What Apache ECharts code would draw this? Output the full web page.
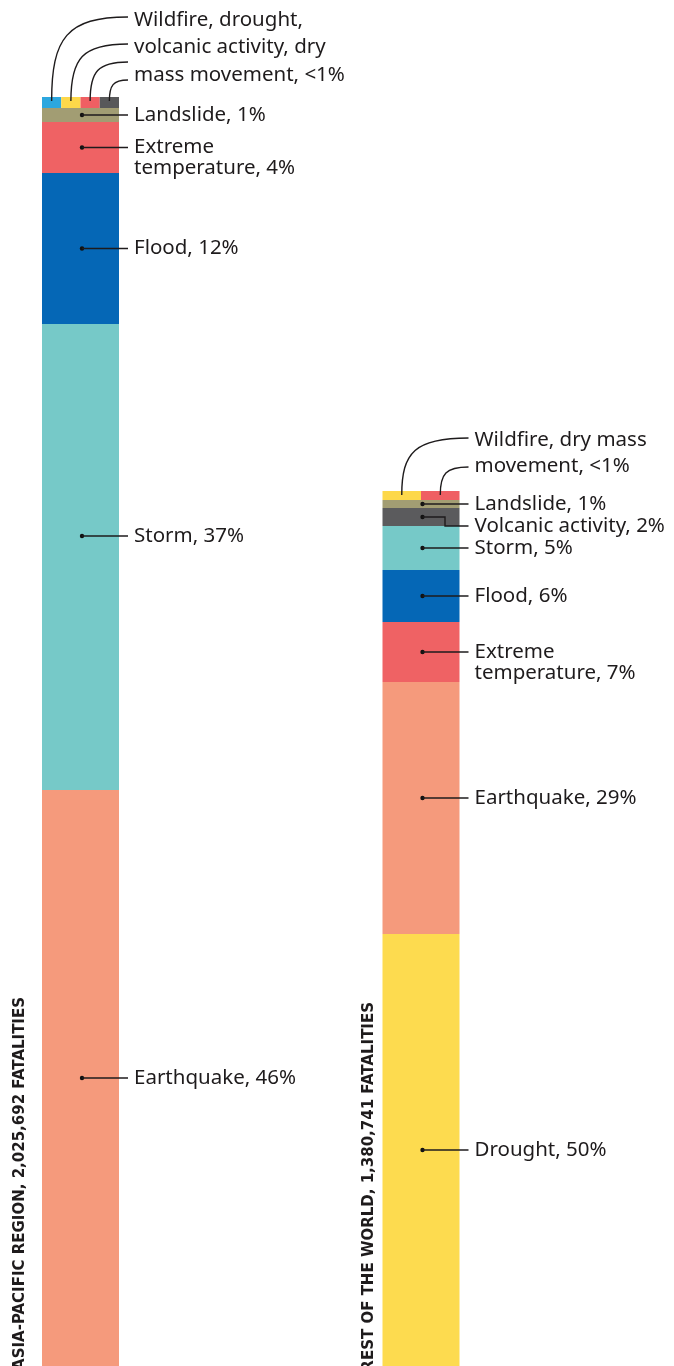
<!DOCTYPE html>
<html>
<head>
<meta charset="utf-8">
<title>Disaster fatalities by region</title>
<script src="https://cdn.jsdelivr.net/npm/echarts@6.0.0/dist/echarts.min.js"></script>
<style>
  html, body { margin: 0; padding: 0; background: #fff; }
  #bars { width: 674px; height: 1366px; }
</style>
</head>
<body>
<div id="bars"></div>
<script>
// fatalities in thousands, bottom segment first
var regions = ['ASIA-PACIFIC REGION, 2,025,692 FATALITIES', 'REST OF THE WORLD, 1,380,741 FATALITIES'];

var asiaHazards = ['Earthquake', 'Storm', 'Flood', 'Extreme temperature', 'Landslide'];
var asiaValues = [919.5, 743.9, 241.0, 81.4, 22.3];
var asiaLabels = ['Earthquake, 46%', 'Storm, 37%', 'Flood, 12%', 'Extreme\ntemperature, 4%', 'Landslide, 1%'];

var restHazards = ['Drought', 'Earthquake', 'Extreme temperature', 'Flood', 'Storm', 'Volcanic activity', 'Landslide'];
var restValues = [689.6, 402.3, 95.8, 83.0, 70.2, 28.7, 12.8];
var restLabels = ['Drought, 50%', 'Earthquake, 29%', 'Extreme\ntemperature, 7%', 'Flood, 6%', 'Storm, 5%', 'Volcanic activity, 2%', 'Landslide, 1%'];

// thin strip on top of each bar, split side by side
var asiaSmall = ['Wildfire', 'Drought', 'Volcanic activity', 'Dry mass movement'];
var asiaSmallValue = 17.6;
var asiaSmallLabel = 'Wildfire, drought,\nvolcanic activity, dry\nmass movement, <1%';
var restSmall = ['Wildfire', 'Dry mass movement'];
var restSmallValue = 14.4;
var restSmallLabel = 'Wildfire, dry mass\nmovement, <1%';

// styling
var hazardColors = {
    'Earthquake': '#F59A7C',
    'Storm': '#76C9C8',
    'Flood': '#0567B6',
    'Extreme temperature': '#EF6264',
    'Landslide': '#A29D73',
    'Volcanic activity': '#5B5B5D',
    'Drought': '#FDDB4F'
};
var asiaSmallColors = ['#2CA7DF', '#FDD84A', '#EF5F63', '#58585A'];
var restSmallColors = ['#FDD84A', '#EF5F63'];

var BAR_W = 77;
var FONT = '"Noto Sans", "Open Sans", sans-serif';
var INK = '#1E1B1C';
var LINE_END = 47.5;   // leader line end, px right of bar centre
var TEXT_X = 53.5;     // label start, px right of bar centre
var labelShift = { '0:Storm': -21, '1:Earthquake': -10 };
var titleLayout = [{ dx: -60.5, top: 997 }, { dx: -52, top: 1002 }];
// strip leader curves: rise above bar top where each curve meets the text side
var stripRise = [[80, 53, 35, 17], [53, 24]];
var stripTextRise = [77, 51];
var stripLineH = [27.5, 26];

var stacks = [
    { hazards: asiaHazards, values: asiaValues, labels: asiaLabels, small: asiaSmall, smallValue: asiaSmallValue, smallColors: asiaSmallColors, smallLabel: asiaSmallLabel },
    { hazards: restHazards, values: restValues, labels: restLabels, small: restSmall, smallValue: restSmallValue, smallColors: restSmallColors, smallLabel: restSmallLabel }
];
var asiaTotal = asiaValues.reduce(function (a, b) { return a + b; }, 0) + asiaSmallValue;

// stacked segments, one series per position from the bottom
var depth = Math.max(asiaValues.length, restValues.length);
var series = [];
for (var i = 0; i < depth; i++) {
    series.push({
        type: 'bar',
        stack: 'all',
        barWidth: BAR_W,
        silent: true,
        data: stacks.map(function (s) {
            if (i >= s.values.length) return '-';
            return { value: s.values[i], name: s.hazards[i], itemStyle: { color: hazardColors[s.hazards[i]] } };
        })
    });
}

// strip cells + segment annotations
var cells = [], cellData = [];
var notes = [], noteData = [];
stacks.forEach(function (s, r) {
    var base = 0;
    s.values.forEach(function (v, k) {
        notes.push({ region: r, hazard: s.hazards[k], label: s.labels[k] });
        noteData.push([r, base + v / 2]);
        base += v;
    });
    s.small.forEach(function (name, k) {
        cells.push({ region: r, index: k, count: s.small.length, color: s.smallColors[k], label: s.smallLabel });
        cellData.push([r, base, base + s.smallValue]);
    });
});

function textEl(x, y, text, lineH) {
    return {
        type: 'text',
        x: x,
        y: y - lineH / 2,
        style: {
            text: text,
            fill: INK,
            fontFamily: FONT,
            fontSize: 20.5,
            lineHeight: lineH,
            align: 'left',
            verticalAlign: 'top'
        }
    };
}

function renderCell(params, api) {
    var c = cells[params.dataIndex];
    var lo = api.coord([api.value(0), api.value(1)]);
    var hi = api.coord([api.value(0), api.value(2)]);
    var w = BAR_W / c.count;
    var x0 = lo[0] - BAR_W / 2 + c.index * w;
    var sx = x0 + w / 2, sy = hi[1] + 4;
    var ex = lo[0] + LINE_END, ey = hi[1] - stripRise[c.region][c.index];
    var dx = ex - sx, dy = sy - ey;
    var children = [
        { type: 'rect', shape: { x: x0, y: hi[1], width: w, height: lo[1] - hi[1] }, style: { fill: c.color } },
        {
            type: 'bezierCurve',
            shape: { x1: sx, y1: sy, cpx1: sx, cpy1: sy - 0.75 * dy, cpx2: sx + 0.2 * dx, cpy2: ey, x2: ex, y2: ey },
            style: { stroke: INK, lineWidth: 1.4, fill: null }
        }
    ];
    if (c.index === 0) {
        children.push(textEl(lo[0] + TEXT_X, hi[1] - stripTextRise[c.region], c.label, stripLineH[c.region]));
    }
    return { type: 'group', children: children };
}

function renderNote(params, api) {
    var n = notes[params.dataIndex];
    var p = api.coord([api.value(0), api.value(1)]);
    var ex = p[0] + LINE_END;
    var children = [{ type: 'circle', shape: { cx: p[0] + 1.5, cy: p[1], r: 2.2 }, style: { fill: '#111' } }];
    var ty = p[1] + (labelShift[n.region + ':' + n.hazard] || 0);
    var pts;
    if (n.hazard === 'Volcanic activity' && n.region === 1) {
        // elbow leader down to the label
        ty = p[1] + 9;
        pts = [[p[0] + 1.5, p[1]], [p[0] + 24, p[1]], [p[0] + 24, ty], [ex, ty]];
    } else {
        pts = [[p[0] + 1.5, ty], [ex, ty]];
        children[0].shape.cy = ty;
    }
    children.push({ type: 'polyline', shape: { points: pts }, style: { stroke: INK, lineWidth: 1.4, fill: null } });
    children.push(textEl(p[0] + TEXT_X, ty, n.label, 21));
    return { type: 'group', children: children };
}

function renderTitle(params, api) {
    var r = api.value(0);
    var p = api.coord([r, 0]);
    return {
        type: 'text',
        x: p[0] + titleLayout[r].dx,
        y: titleLayout[r].top,
        rotation: Math.PI / 2,
        style: {
            text: regions[r],
            fill: INK,
            fontFamily: '"DejaVu Sans", sans-serif',
            fontWeight: 'bold',
            fontSize: 15,
            align: 'right',
            verticalAlign: 'middle'
        }
    };
}

series.push({ type: 'custom', silent: true, renderItem: renderCell, data: cellData, z: 3 });
series.push({ type: 'custom', silent: true, renderItem: renderNote, data: noteData, z: 4 });
series.push({ type: 'custom', silent: true, renderItem: renderTitle, data: regions.map(function (t, r) { return [r, 0]; }), z: 4 });

var chart = echarts.init(document.getElementById('bars'));
option = {
    animation: false,
    backgroundColor: '#ffffff',
    grid: { left: -89.75, right: 82.75, top: 97, bottom: 0, outerBoundsMode: 'none' },
    xAxis: { type: 'category', data: regions, show: false },
    yAxis: { type: 'value', min: 0, max: asiaTotal, show: false },
    series: series
};
chart.setOption(option);
</script>
</body>
</html>
